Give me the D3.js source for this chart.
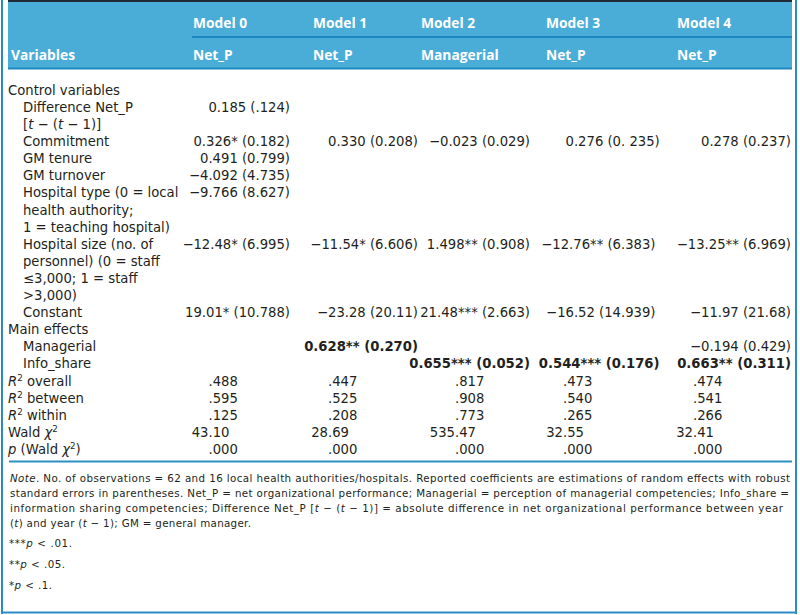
<!DOCTYPE html>
<html>
<head>
<meta charset="utf-8">
<script src="https://cdn.jsdelivr.net/npm/d3@7"></script>
<style>
  html, body { margin: 0; padding: 0; background: #ffffff; }
  svg { display: block; }
</style>
</head>
<body>
<svg id="chart" width="800" height="615"></svg>
<script>
// ---------------- DATA ----------------
const models = ["Model 0", "Model 1", "Model 2", "Model 3", "Model 4"];
const dependentVars = ["Net_P", "Net_P", "Managerial", "Net_P", "Net_P"];
const sectionTitles = ["Control variables", "Main effects"];

const controlLabels = [
  ["Difference Net_P", "[<i>t</i> − (<i>t</i> − 1)]"],
  ["Commitment"],
  ["GM tenure"],
  ["GM turnover"],
  ["Hospital type (0 = local", "health authority;", "1 = teaching hospital)"],
  ["Hospital size (no. of", "personnel) (0 = staff", "≤3,000; 1 = staff", ">3,000)"],
  ["Constant"]
];
const controlValues = [
  ["0.185 (.124)", "", "", "", ""],
  ["0.326* (0.182)", "0.330 (0.208)", "−0.023 (0.029)", "0.276 (0. 235)", "0.278 (0.237)"],
  ["0.491 (0.799)", "", "", "", ""],
  ["−4.092 (4.735)", "", "", "", ""],
  ["−9.766 (8.627)", "", "", "", ""],
  ["−12.48* (6.995)", "−11.54* (6.606)", "1.498** (0.908)", "−12.76** (6.383)", "−13.25** (6.969)"],
  ["19.01* (10.788)", "−23.28 (20.11)", "21.48*** (2.663)", "−16.52 (14.939)", "−11.97 (21.68)"]
];

const mainLabels = [["Managerial"], ["Info_share"]];
const mainValues = [
  ["", "0.628** (0.270)", "", "", "−0.194 (0.429)"],
  ["", "", "0.655*** (0.052)", "0.544*** (0.176)", "0.663** (0.311)"]
];
const mainBold = [
  [false, true, false, false, false],
  [false, false, true, true, true]
];

const statLabels = [
  "<i>R</i><sup>2</sup> overall",
  "<i>R</i><sup>2</sup> between",
  "<i>R</i><sup>2</sup> within",
  "Wald <i>χ</i><sup>2</sup>",
  "<i>p</i> (Wald <i>χ</i><sup>2</sup>)"
];
const statValues = [
  [".488", ".447", ".817", ".473", ".474"],
  [".595", ".525", ".908", ".540", ".541"],
  [".125", ".208", ".773", ".265", ".266"],
  ["43.10", "28.69", "535.47", "32.55", "32.41"],
  [".000", ".000", ".000", ".000", ".000"]
];

const noteLines = [
  "<i>Note</i>. No. of observations = 62 and 16 local health authorities/hospitals. Reported coefficients are estimations of random effects with robust",
  "standard errors in parentheses. Net_P = net organizational performance; Managerial = perception of managerial competencies; Info_share =",
  "information sharing competencies; Difference Net_P [<i>t</i> − (<i>t</i> − 1)] = absolute difference in net organizational performance between year",
  "(<i>t</i>) and year (<i>t</i> − 1); GM = general manager."
];
const footnotes = ["***<i>p</i> < .01.", "**<i>p</i> < .05.", "*<i>p</i> < .1."];

// ---------------- LAYOUT / STYLE ----------------
const FONT = "'DejaVu Sans', 'Open Sans', sans-serif";
const HEAD_FONT = "'Open Sans', 'Noto Sans', sans-serif";
const BODY_SIZE = 13.2;
const NOTE_SIZE = 10.3;
const TEXT_COLOR = "#231f20";
const HEADER_BG = "#4aadd8";
const LINE_BLUE = "#1c87c0";

const svg = d3.select("#chart");

// column scales
const colStart = d3.scaleOrdinal().domain(models).range([193, 313, 421, 546, 677]);
const colRight = d3.scaleOrdinal().domain(models).range([290, 418, 530, 660, 791]);
// columns aligned on the decimal point of the standard error (others right-aligned)
const seDecimal = d3.scaleOrdinal().domain(models).range([255.5, null, null, 621, null]);
const statDecimal = d3.scaleOrdinal().domain(models).range([208.5, 328, 455, 563, 693]);

// row scale (line index -> baseline)
const rowY = d3.scaleLinear().domain([0, 1]).range([94.8, 111.9]);
const noteY = d3.scaleLinear().domain([0, 1]).range([481.5, 496.5]);
const footY = d3.scaleLinear().domain([0, 1]).range([546.8, 567.8]);
const indentX = d3.scaleLinear().domain([0, 1]).range([8, 23]);

// rich-text helper: supports <i>, <b>, <sup>
function rich(textSel, str, size) {
  const parts = str.split(/(<\/?i>|<\/?b>|<\/?sup>)/);
  let it = false, b = false, sup = false, pendingDy = 0, supStart = false;
  const shift = size * 0.36;
  parts.forEach(p => {
    if (p === "<i>") it = true;
    else if (p === "</i>") it = false;
    else if (p === "<b>") b = true;
    else if (p === "</b>") b = false;
    else if (p === "<sup>") { sup = true; supStart = true; }
    else if (p === "</sup>") { sup = false; pendingDy = shift; }
    else if (p) {
      const ts = textSel.append("tspan").text(p);
      if (it) ts.attr("font-style", "italic");
      if (b) ts.attr("font-weight", "bold");
      if (sup) {
        ts.attr("font-size", size * 0.66);
        if (supStart) { ts.attr("dy", -shift); supStart = false; }
      } else if (pendingDy) {
        ts.attr("dy", pendingDy); pendingDy = 0;
      }
    }
  });
  return textSel;
}

// measurement helper
const measurer = svg.append("text").attr("font-family", FONT).attr("visibility", "hidden");
function textWidth(str, size, weight) {
  measurer.attr("font-size", size).attr("font-weight", weight || "normal").text(str);
  return measurer.node().getComputedTextLength();
}

// ---------------- FRAME ----------------
svg.append("rect").attr("x", 0).attr("y", 0).attr("width", 800).attr("height", 615).attr("fill", "#ffffff");
svg.append("rect").attr("x", 1).attr("y", 0).attr("width", 2).attr("height", 614).attr("fill", "#2a8cc6");
svg.append("rect").attr("x", 795).attr("y", 0).attr("width", 2).attr("height", 614).attr("fill", "#2a8cc6");
svg.append("rect").attr("x", 1).attr("y", 611.5).attr("width", 796).attr("height", 2).attr("fill", "#2a8cc6");

// header band
svg.append("rect").attr("x", 8).attr("y", 0).attr("width", 784).attr("height", 69).attr("fill", HEADER_BG);
svg.append("rect").attr("x", 8).attr("y", 0).attr("width", 784).attr("height", 2).attr("fill", "#1f2b36");
svg.append("rect").attr("x", 192).attr("y", 36).attr("width", 600).attr("height", 2).attr("fill", LINE_BLUE);
svg.append("rect").attr("x", 8).attr("y", 67.5).attr("width", 784).attr("height", 2).attr("fill", LINE_BLUE);

// header text
const hdr = svg.append("g").attr("font-family", HEAD_FONT).attr("font-weight", "bold")
  .attr("font-size", 13.8).attr("fill", "#ffffff");
hdr.selectAll("text.model").data(models).join("text").attr("class", "model")
  .attr("x", d => colStart(d)).attr("y", 28).text(d => d);
hdr.selectAll("text.dep").data(models).join("text").attr("class", "dep")
  .attr("x", d => colStart(d)).attr("y", 59.5).text((d, i) => dependentVars[i]);
hdr.append("text").attr("x", 11).attr("y", 59.5).text("Variables");

// ---------------- BODY ----------------
const body = svg.append("g").attr("font-family", FONT).attr("font-size", BODY_SIZE).attr("fill", TEXT_COLOR);

let line = 0;
function label(str, indent) {
  rich(body.append("text").attr("x", indentX(indent)).attr("y", rowY(line)), str, BODY_SIZE);
}
function coef(str, model, bold) {
  if (!str) return;
  const weight = bold ? "bold" : "normal";
  const t = body.append("text").attr("y", rowY(line)).attr("font-weight", weight);
  const dec = seDecimal(model);
  if (dec != null) {
    const idx = str.lastIndexOf(".");
    const w = textWidth(str.slice(0, idx), BODY_SIZE, weight);
    t.attr("x", dec - w);
  } else {
    t.attr("x", colRight(model)).attr("text-anchor", "end");
  }
  t.text(str);
}
function stat(str, model) {
  const idx = str.indexOf(".");
  const w = textWidth(str.slice(0, idx), BODY_SIZE, "normal");
  body.append("text").attr("y", rowY(line)).attr("x", statDecimal(model) - w).text(str);
}

// control variables
label(sectionTitles[0], 0); line++;
controlLabels.forEach((lines, r) => {
  models.forEach((m, c) => coef(controlValues[r][c], m, false));
  lines.forEach(l => { label(l, 1); line++; });
});
// main effects
label(sectionTitles[1], 0); line++;
mainLabels.forEach((lines, r) => {
  models.forEach((m, c) => coef(mainValues[r][c], m, mainBold[r][c]));
  lines.forEach(l => { label(l, 1); line++; });
});
// statistics
statLabels.forEach((l, r) => {
  models.forEach((m, c) => stat(statValues[r][c], m));
  label(l, 0); line++;
});

// bottom rule
svg.append("rect").attr("x", 9).attr("y", 460.5).attr("width", 783).attr("height", 2).attr("fill", "#2b8fc4");

// ---------------- NOTES ----------------
const notes = svg.append("g").attr("font-family", FONT).attr("font-size", NOTE_SIZE).attr("fill", TEXT_COLOR);
const noteWidths = [780, 779, 773, 241];
noteLines.forEach((l, i) => {
  const t = notes.append("text").attr("x", 10).attr("y", noteY(i))
    .attr("textLength", noteWidths[i]).attr("lengthAdjust", "spacing");
  rich(t, l, NOTE_SIZE);
});
const footWidths = [63, 56, 43];
footnotes.forEach((l, i) => {
  const t = notes.append("text").attr("x", 9).attr("y", footY(i))
    .attr("textLength", footWidths[i]).attr("lengthAdjust", "spacing");
  rich(t, l, NOTE_SIZE);
});
measurer.remove();
</script>
</body>
</html>
